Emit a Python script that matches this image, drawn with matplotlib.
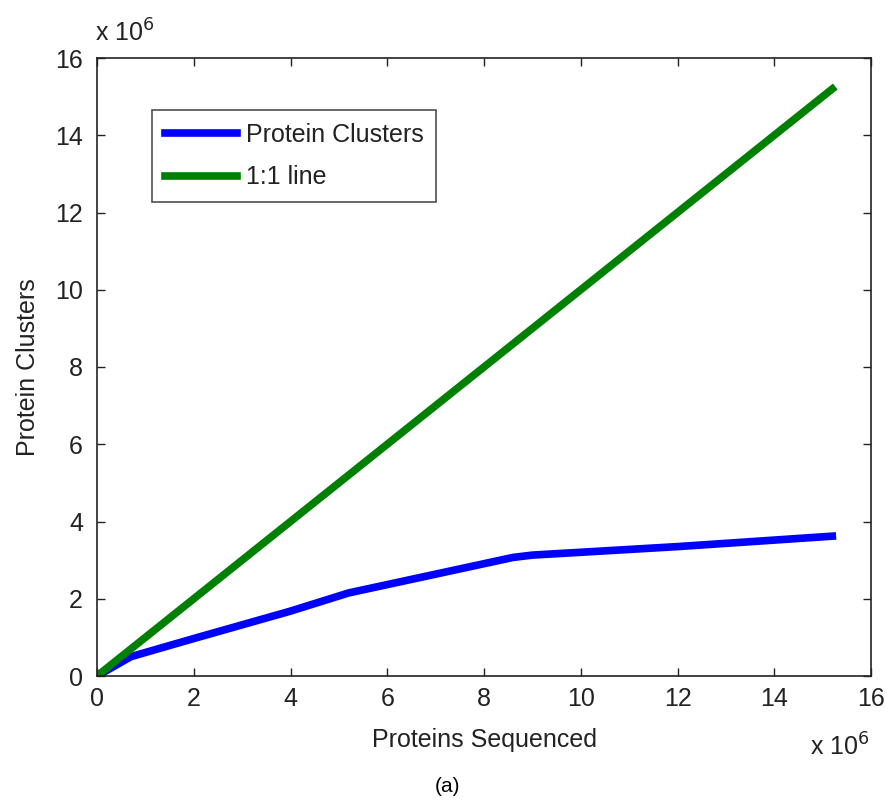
# %% Imports

import matplotlib.pyplot as plt

plt.rcParams['font.family'] = ['Liberation Sans', 'DejaVu Sans']

# %% Data (values in millions)

# Protein clusters curve
sequenced = [0.0, 0.7, 2.0, 4.0, 5.2, 8.6, 9.0, 12.0, 15.2]
clusters = [0.0, 0.5, 0.97, 1.68, 2.15, 3.07, 3.13, 3.35, 3.62]

# 1:1 line
one_to_one_x = [0.0, 15.2]
one_to_one_y = [0.0, 15.2]

ticks = [0, 2, 4, 6, 8, 10, 12, 14, 16]

# %% Plot

text_c = '#222222'
fig = plt.figure(figsize=(8.91, 8.02), dpi=100)
ax = fig.add_axes([97/891, 126/802, 774/891, 618/802])

ax.plot(sequenced, clusters, color=(0, 0, 1), lw=5.5, label='Protein Clusters')
ax.plot(one_to_one_x, one_to_one_y, color=(0, 0.5, 0), lw=5.5, label='1:1 line')

ax.set_xlim(0, 16)
ax.set_ylim(0, 16)
ax.set_xticks(ticks)
ax.set_yticks(ticks)
ax.tick_params(direction='in', top=True, right=True, length=6, width=1,
               labelsize=18, colors=text_c, pad=8)
ax.tick_params(axis='y', pad=10)
for s in ax.spines.values():
    s.set_linewidth(1.2)
    s.set_color(text_c)

ax.set_xlabel('Proteins Sequenced', fontsize=18, color=text_c, labelpad=12)
ax.set_ylabel('Protein Clusters', fontsize=18, color=text_c, labelpad=11)

# Exponent labels
fig.text(95/891, 1 - 33/802, r'x 10$^{6}$', fontsize=18, color=text_c, va='center', ha='left')
fig.text(870/891, 1 - 747/802, r'x 10$^{6}$', fontsize=18, color=text_c, va='center', ha='right')

leg = ax.legend(loc='upper left', bbox_to_anchor=(55/774, 1 - 52/618), fontsize=18,
                frameon=True, fancybox=False, edgecolor=text_c, handlelength=2.9,
                borderpad=0.5, labelspacing=0.75, handletextpad=0.35, borderaxespad=0)
leg.get_frame().set_linewidth(1.2)
for t in leg.get_texts():
    t.set_color(text_c)

fig.text(447/891, 1 - 787/802, '(a)', fontsize=15, ha='center', va='center')

plt.savefig('out.png', dpi=100)
